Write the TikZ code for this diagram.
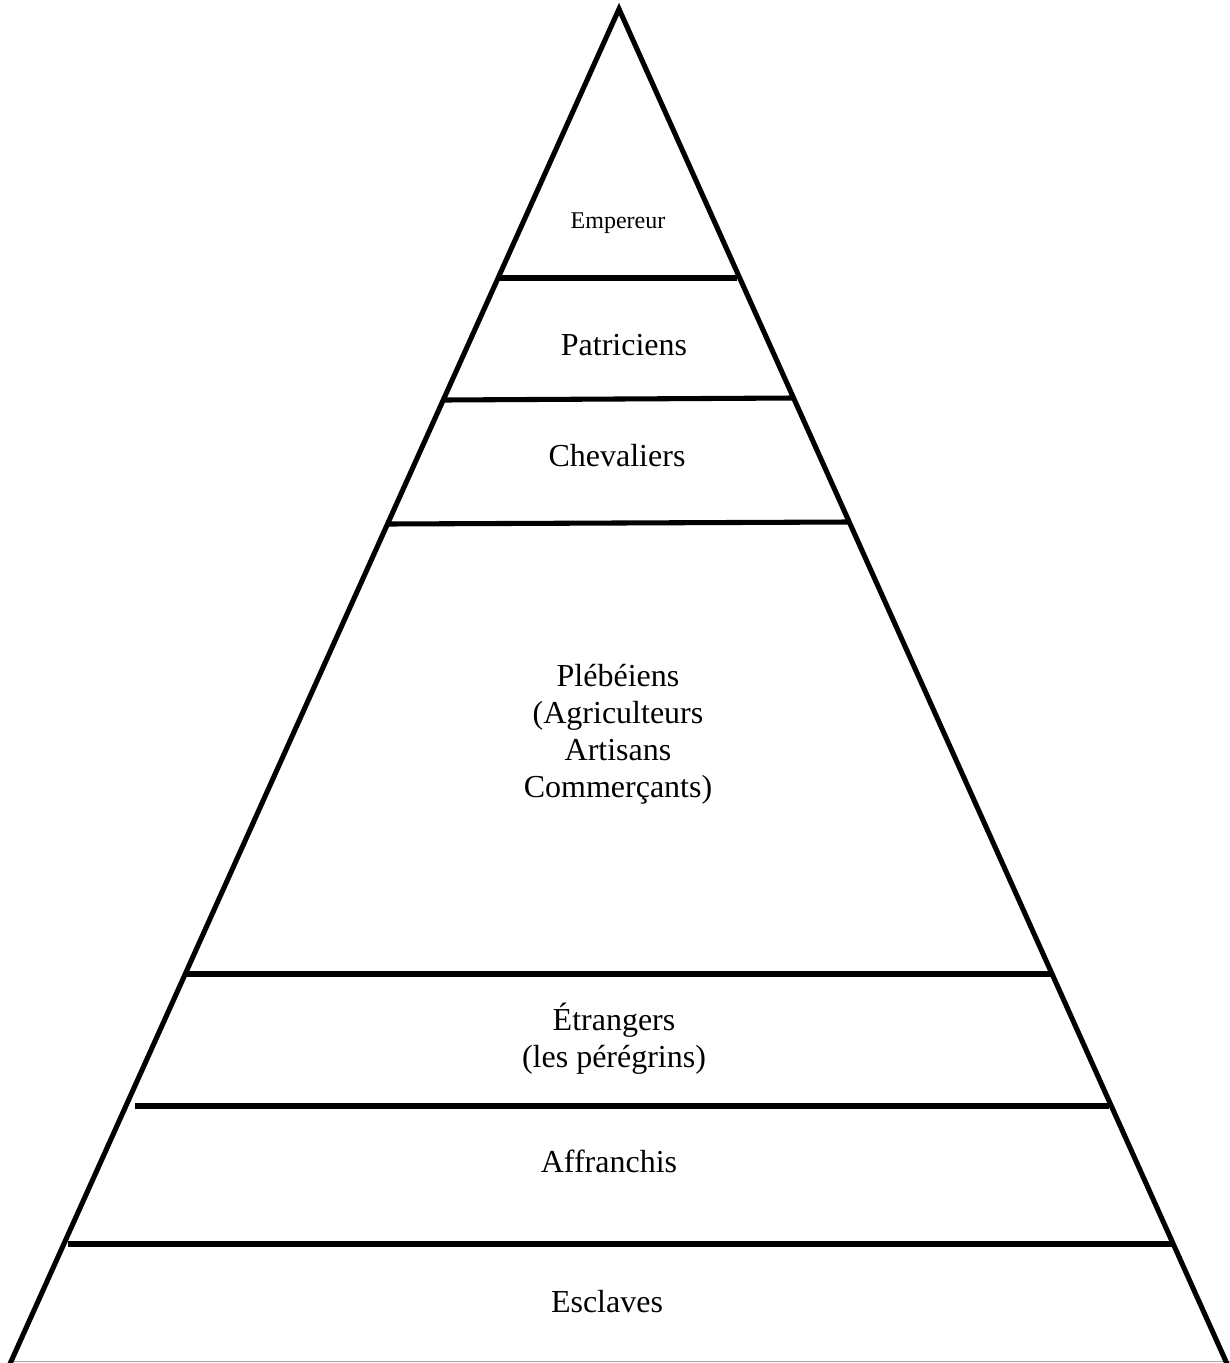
\documentclass[tikz,border=0pt]{standalone}
\usepackage{fontspec}
\setmainfont{Liberation Serif}
\begin{document}
\begin{tikzpicture}[x=0.75pt,y=-0.75pt,
  side/.style={line width=3.8pt,line join=miter,miter limit=20},
  tier/.style={line width=3.8pt},
  lbl/.style={inner sep=0pt,align=center,font=\fontsize{24}{27.75}\selectfont},
  small/.style={inner sep=0pt,align=center,font=\fontsize{18}{20}\selectfont}]
\useasboundingbox[fill=white] (0,0) rectangle (1230,1363);
% base
\draw[line width=1.3pt,gray!70] (12,1361.5) -- (1230,1361.5);
% sides
\draw[side] (9,1366) -- (619,9) -- (1228,1366);
% tier lines
\draw[tier] (498,278) -- (737,278);
\draw[tier] (445,400) -- (793,398);
\draw[tier] (388,524) -- (848,522);
\draw[tier] (187,974) -- (1052,974);
\draw[tier] (135,1106) -- (1109,1106);
\draw[tier] (68,1244) -- (1172,1244);
% labels
\node[small] (emp) at (618,223) {Empereur};
\node[lbl] (pat) at (624,345) {Patriciens};
\node[lbl] (che) at (617,456) {Chevaliers};
\node[lbl] (ple) at (618,734) {Plébéiens\\(Agriculteurs\\Artisans\\Commerçants)};
\node[lbl] (etr) at (614,1039) {Étrangers\\(les pérégrins)};
\node[lbl] (aff) at (609,1161) {Affranchis};
\node[lbl] (esc) at (607,1302) {Esclaves};
\end{tikzpicture}
\end{document}
